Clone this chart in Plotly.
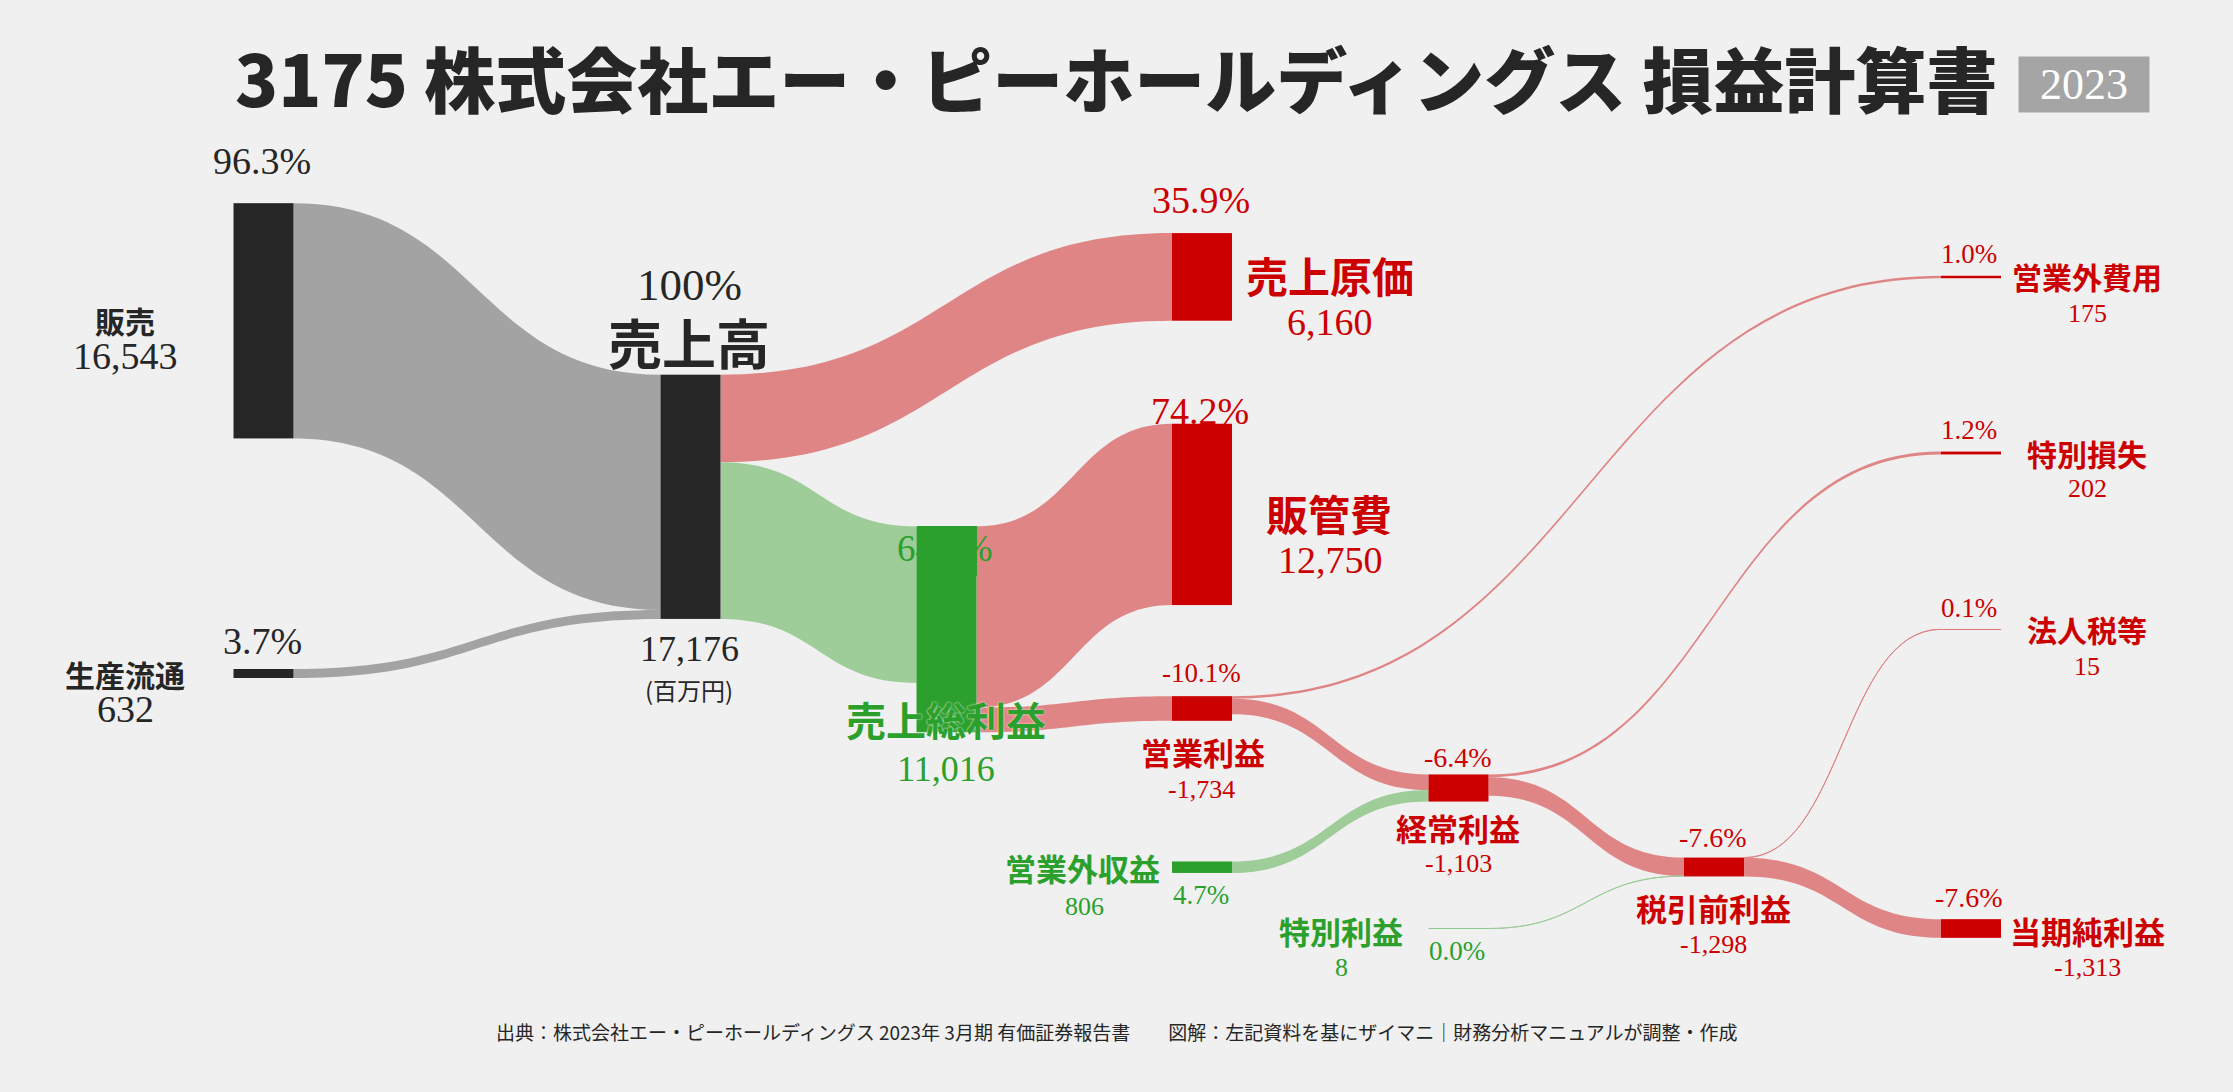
import plotly.graph_objects as go

W, H = 2233, 1092

# ---------------- data ----------------
node_names = ["販売", "生産流通", "売上高", "売上原価", "売上総利益", "販管費", "営業利益",
              "営業外収益", "経常利益", "営業外費用", "特別損失", "特別利益", "税引前利益",
              "法人税等", "当期純利益"]
node_values = [16543, 632, 17176, 6160, 11016, 12750, -1734,
               806, -1103, 175, 202, 8, -1298,
               15, -1313]
node_kind = ["base", "base", "base", "cost", "profit", "cost", "cost",
             "profit", "cost", "cost", "cost", "profit", "cost",
             "cost", "cost"]

link_sources = ["販売", "生産流通", "売上高", "売上高", "売上総利益", "売上総利益", "営業利益",
                "営業利益", "営業外収益", "経常利益", "経常利益", "特別利益", "税引前利益", "税引前利益"]
link_targets = ["売上高", "売上高", "売上原価", "売上総利益", "販管費", "営業利益", "営業外費用",
                "経常利益", "経常利益", "特別損失", "税引前利益", "税引前利益", "法人税等", "当期純利益"]
link_values = [16543, 632, 6160, 11016, 12750, 1734, 175,
               1103, 806, 202, 1298, 8, 15, 1313]
link_kind = ["base", "base", "cost", "profit", "cost", "cost", "cost",
             "cost", "profit", "cost", "cost", "profit", "cost", "cost"]

title_text = "3175 株式会社エー・ピーホールディングス 損益計算書"
year_text = "2023"
unit_text = "(百万円)"
source_text = ("出典：株式会社エー・ピーホールディングス 2023年 3月期 有価証券報告書　　"
               "図解：左記資料を基にザイマニ｜財務分析マニュアルが調整・作成")

# ---------------- styles / layout ----------------
BG = "#f0f0f0"
DARK = "#262626"
RED = "#cc0000"
GREEN = "#2ca02c"
NODE_COL = {"base": DARK, "cost": RED, "profit": GREEN}
LINK_COL = {"base": "#a3a3a3", "cost": "#e08585", "profit": "#9ecd9a"}
TEXT_COL = {"base": DARK, "cost": RED, "profit": GREEN}

SERIF = "Liberation Serif, DejaVu Serif, serif"
GOTHIC = "Noto Sans CJK JP, Noto Sans, sans-serif"

# node centre positions in page pixels
NODE_POS = {
    "販売": (263.5, 320.8), "生産流通": (263.5, 673.5), "売上高": (690.5, 496.8),
    "売上原価": (1202, 276.9), "売上総利益": (946.5, 629.3), "販管費": (1202, 514.4),
    "営業利益": (1202, 708.5), "営業外収益": (1202, 867.2), "経常利益": (1458.5, 788),
    "営業外費用": (1971, 277), "特別損失": (1971, 453), "特別利益": (1458.5, 928.5),
    "税引前利益": (1714, 867), "法人税等": (1971, 629.3), "当期純利益": (1971, 928.5),
}
DOM_TOP, DOM_BOT = 160.0, 980.0
DOM_H = DOM_BOT - DOM_TOP
KY = 0.01422  # px per unit
THICK = 60

idx = {n: i for i, n in enumerate(node_names)}
sinks = [n for n in node_names if n not in link_sources]
sink_sum = sum(v for t, v in zip(link_targets, link_values) if t in sinks)
pad = (DOM_H - KY * sink_sum) / (len(sinks) - 1)

node_x = [NODE_POS[n][0] / W for n in node_names]
node_y = [(NODE_POS[n][1] - DOM_TOP) / DOM_H for n in node_names]

sankey = go.Sankey(
    arrangement="fixed",
    domain=dict(x=[0, 1], y=[1 - DOM_BOT / H, 1 - DOM_TOP / H]),
    node=dict(
        label=["" for _ in node_names],
        x=node_x, y=node_y,
        pad=pad, thickness=THICK,
        color=[NODE_COL[k] for k in node_kind],
        line=dict(width=0),
        hoverinfo="none",
    ),
    link=dict(
        source=[idx[s] for s in link_sources],
        target=[idx[t] for t in link_targets],
        value=link_values,
        color=[LINK_COL[k] for k in link_kind],
        line=dict(width=0),
        hoverinfo="none",
    ),
)

sales = node_values[idx["売上高"]]


def pct(name):
    v = node_values[idx[name]]
    if name == "売上高":
        return "100%"
    return f"{v / sales * 100:.1f}%"


def num(name):
    return f"{node_values[idx[name]]:,}"


# label placement: name -> (pct_xy, pct_size, name_xy, name_size, name_anchor, num_xy, num_size)
LABELS = {
    "販売": ((262, 161), 38, (125, 320), 30, "center", (125, 356), 38),
    "生産流通": ((262, 641), 38, (125, 674), 30, "center", (125, 709), 38),
    "売上高": ((689, 285), 45, (689, 341), 54, "center", (689, 649), 36),
    "売上原価": ((1201, 200), 38, (1330, 274), 42, "center", (1330, 322), 38),
    "販管費": ((1200, 411), 38, (1329, 512), 42, "center", (1330, 560), 38),
    "売上総利益": ((945, 548), 37, (946, 719), 40, "center", (946, 769), 36),
    "営業利益": ((1201, 673), 27, (1203, 751), 31, "center", (1201, 789), 26),
    "営業外収益": ((1201, 895), 27, (1162, 867), 31, "right", (1084, 906), 26),
    "経常利益": ((1458, 757.5), 28, (1458, 827), 31, "center", (1458, 863), 26),
    "特別利益": ((1457, 951), 27, (1341, 930), 31, "center", (1341, 967), 26),
    "税引前利益": ((1713, 837.5), 28, (1713, 907), 31, "center", (1713, 944), 26),
    "当期純利益": ((1969, 897.5), 28, (2087, 930), 31, "center", (2087, 967.5), 26),
    "営業外費用": ((1969, 254), 27, (2087, 276), 30, "center", (2087, 313), 26),
    "特別損失": ((1969, 430), 27, (2087, 452.5), 30, "center", (2087, 489), 26),
    "法人税等": ((1969, 608), 27, (2087, 629), 30, "center", (2087, 666), 26),
}


def ann(text, x, y, size, color, family, weight="normal", xanchor="center", **kw):
    d = dict(text=text, x=x / W, y=1 - y / H, xref="paper", yref="paper",
             xanchor=xanchor, yanchor="middle", showarrow=False,
             font=dict(size=size, color=color, family=family, weight=weight))
    d.update(kw)
    return d


annotations = []
for name, (pxy, psz, nxy, nsz, nanc, vxy, vsz) in LABELS.items():
    col = TEXT_COL[node_kind[idx[name]]]
    annotations.append(ann(pct(name), pxy[0], pxy[1], psz, col, SERIF))
    if name == "売上総利益":
        # in the original the gross-profit node hides the middle of its ratio label
        gx, gy = NODE_POS[name]
        top = gy - KY * sum(v for s, v in zip(link_sources, link_values) if s == name) / 2
        annotations.append(dict(text=" ", x=gx / W, y=1 - top / H, xref="paper", yref="paper",
                                xanchor="center", yanchor="top", showarrow=False,
                                width=THICK, height=50, bgcolor=NODE_COL["profit"],
                                borderpad=0, borderwidth=0))
        a = ann(name, nxy[0], nxy[1], nsz, col, GOTHIC, weight="bold")
        a["font"]["shadow"] = "0px 0px 2px #ffffff"
    else:
        a = ann(name, nxy[0], nxy[1], nsz, col, GOTHIC, weight="bold", xanchor=nanc)
    annotations.append(a)
    annotations.append(ann(num(name), vxy[0], vxy[1], vsz, col, SERIF))

annotations.append(ann(unit_text, 689, 689, 24, DARK, GOTHIC))
annotations.append(ann(title_text, 1116.5, 76, 71, DARK, GOTHIC, weight=900))
annotations.append(ann(year_text, 2084, 84.5, 44, "#ffffff", SERIF,
                       bgcolor="#a5a5a5", width=128, height=53, align="center", valign="middle"))
annotations.append(ann(source_text, 1116.5, 1031, 19, DARK, GOTHIC))

fig = go.Figure([sankey])
fig.update_layout(
    width=W, height=H,
    margin=dict(l=0, r=0, t=0, b=0),
    paper_bgcolor=BG, plot_bgcolor=BG,
    annotations=annotations,
    showlegend=False,
)
fig.write_html("out.html",
               config={"displayModeBar": False},
               post_script="document.body.style.margin='0px';document.body.style.padding='0px';")
